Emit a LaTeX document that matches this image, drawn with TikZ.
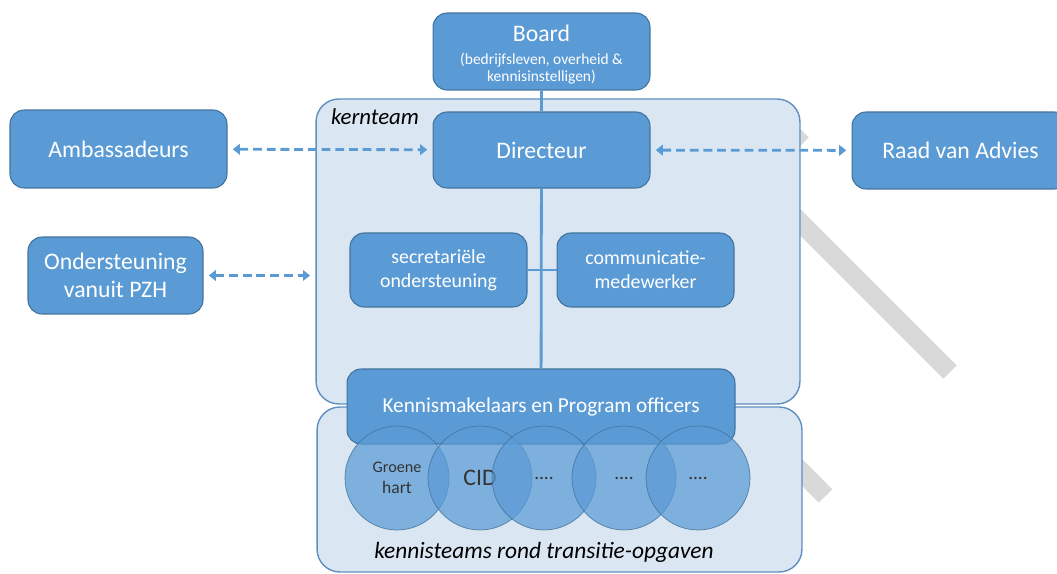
\documentclass[tikz,border=0pt]{standalone}
\usepackage{fontspec}
\setmainfont{Carlito}
\usetikzlibrary{arrows.meta,positioning,calc}

\definecolor{boxblue}{HTML}{5B9BD5}
\definecolor{boxline}{HTML}{41719C}
\definecolor{teamfill}{HTML}{DAE7F2}
\definecolor{teamline}{HTML}{5E8FC0}
\definecolor{bargray}{HTML}{D9D9D9}
\definecolor{circtext}{HTML}{333333}

\begin{document}
\begin{tikzpicture}[
    x=0.02cm, y=-0.02cm,
    blk/.style={draw=boxline, fill=boxblue, rounded corners=8pt, line width=0.6pt,
      text=white, align=center, inner sep=1pt, font=\fontsize{13.5}{16}\selectfont},
    sub/.style={blk, font=\fontsize{11.3}{13.5}\selectfont},
    team/.style={draw=teamline, fill=teamfill, rounded corners=13pt, line width=0.8pt},
    kt/.style={circle, draw=boxline, draw opacity=0.85, fill=boxblue, fill opacity=0.72,
      text opacity=1, text=circtext, minimum size=2.08cm, inner sep=0pt, align=center},
    conn/.style={draw=boxblue, line width=1.6pt},
    darr/.style={draw=boxblue, line width=1.6pt, dash pattern=on 5pt off 2.8pt,
      {Triangle[length=4pt,width=6pt]}-{Triangle[length=4pt,width=6pt]},
      shorten <=3pt, shorten >=3pt},
    bar/.style={draw=bargray, line width=10.8pt}
  ]
    \useasboundingbox (0,0) rectangle (1057,574);

    % grey bars behind the teams
    \coordinate (g1a) at (770,112);  \coordinate (g1b) at (802,144);
    \coordinate (g2a) at (770,192);  \coordinate (g2b) at (950,372);
    \coordinate (g3a) at (780,450);  \coordinate (g3b) at (825.5,496);
    \draw[bar] (g1a) -- (g1b);
    \draw[bar] (g2a) -- (g2b);
    \draw[bar] (g3a) -- (g3b);

    % containers
    \node[team, minimum width=9.68cm, minimum height=6.1cm] (kern) at (558,251.5) {};
    \node[team, minimum width=9.7cm, minimum height=3.3cm] (teams) at (559.5,489.5) {};
    \node[font=\fontsize{13}{15}\selectfont\itshape] (kernlbl) at (375,117) {kernteam};

    % boxes
    \node[blk, minimum width=4.34cm, minimum height=1.54cm] (board) at (541.5,51.5)
      {\rule{0pt}{13pt}Board\\[-3pt]{\fontsize{8.8}{10.4}\selectfont(bedrijfsleven, overheid \&}\\[-6pt]
       {\fontsize{8.8}{10.4}\selectfont kennisinstelligen)}};
    \node[blk, minimum width=4.34cm, minimum height=1.52cm] (dir) at (541.5,150) {Directeur};
    \node[blk, minimum width=4.34cm, minimum height=1.56cm] (amb) at (118.5,149) {Ambassadeurs};
    \node[blk, minimum width=4.34cm, minimum height=1.54cm] (raad) at (960.5,150.5) {Raad van Advies};
    \node[blk, minimum width=3.5cm, minimum height=1.54cm] (ond) at (115.5,275.5)
      {Ondersteuning\\vanuit PZH};
    \node[sub, minimum width=3.54cm, minimum height=1.48cm] (sec) at (438.5,270)
      {secretariële\\ondersteuning};
    \node[sub, minimum width=3.54cm, minimum height=1.48cm] (comm) at (645.5,270)
      {communicatie-\\medewerker};

    % lines
    \draw[conn] (board) -- (dir);
    \draw[conn] (sec) -- (comm);
    \draw[darr] (amb) -- (dir);
    \draw[darr] (dir) -- (raad);
    \draw[darr] (ond.east) -- (ond.east -| kern.west);

    \node[sub, font=\fontsize{12.1}{14}\selectfont, minimum width=7.76cm, minimum height=1.5cm]
      (km) at (541,406.5) {Kennismakelaars en Program officers};
    \draw[conn] (dir) -- (km);

    % kennisteams
    \foreach \x/\t [count=\i] in {397/{\fontsize{9.2}{12}\selectfont Groene\\hart},
        480/{\fontsize{13.5}{15}\selectfont CID}, 544/{\fontsize{11}{13}\selectfont ....},
        624/{\fontsize{11}{13}\selectfont ....}, 698/{\fontsize{11}{13}\selectfont ....}} {
      \node[kt] (c\i) at (\x,478) {\t};
    }
    \node[font=\fontsize{13.3}{15}\selectfont\itshape] (teamlbl) at (544,552)
      {kennisteams rond transitie-opgaven};
\end{tikzpicture}
\end{document}
